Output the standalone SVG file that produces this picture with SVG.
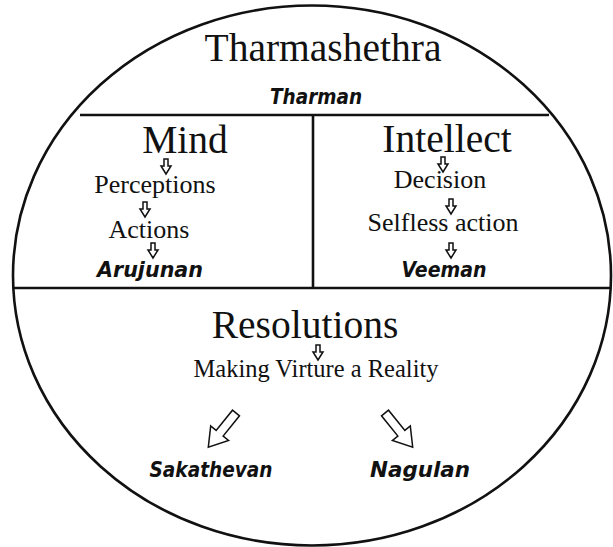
<svg xmlns="http://www.w3.org/2000/svg" width="613" height="547" viewBox="0 0 613 547">
<style>
.ser{font-family:"Liberation Serif","DejaVu Serif",serif;fill:#111;text-anchor:middle}
.h{font-size:39.5px}
.t{font-size:26px}
.sc{font-family:"DejaVu Sans","Liberation Sans",sans-serif;font-weight:bold;font-style:italic;font-size:22px;fill:#111;text-anchor:middle}
.ln{stroke:#111;stroke-width:2.6;fill:none}
.ar{fill:#fff;stroke:#111;stroke-width:1.5;stroke-linejoin:miter}
</style>
<defs>
<path id="sa" d="M-2,0 h4 v7 h3 l-5,8 l-5,-8 h3 z"/>
<path id="ba" d="M-4.5,0 h9 v26 h7 l-11.5,18 l-11.5,-18 h7 z"/>
</defs>
<rect width="613" height="547" fill="#fff"/>
<g id="connectors">
<ellipse class="ln" cx="312" cy="275.5" rx="299" ry="270"/>
<line class="ln" x1="80" y1="115" x2="549" y2="115"/>
<line class="ln" x1="313" y1="115" x2="313" y2="288"/>
<line class="ln" x1="14" y1="288" x2="611" y2="288"/>
<use href="#sa" class="ar" x="166" y="159"/>
<use href="#sa" class="ar" x="145" y="202"/>
<use href="#sa" class="ar" x="153" y="243"/>
<use href="#sa" class="ar" x="443" y="157"/>
<use href="#sa" class="ar" x="451" y="199"/>
<use href="#sa" class="ar" x="451" y="243"/>
<use href="#sa" class="ar" x="318" y="345"/>
<use href="#ba" class="ar" transform="translate(236,413) rotate(39)"/>
<use href="#ba" class="ar" transform="translate(385,413) rotate(-39)"/>
</g>
<g id="top">
<text class="ser h" x="323" y="61">Tharmashethra</text>
<text class="sc" x="316" y="104" textLength="92" lengthAdjust="spacingAndGlyphs">Tharman</text>
</g>
<g id="mind">
<text class="ser h" x="185" y="153">Mind</text>
<text class="ser t" x="155" y="193">Perceptions</text>
<text class="ser t" x="149" y="238">Actions</text>
<text class="sc" x="150" y="277" textLength="106" lengthAdjust="spacingAndGlyphs">Arujunan</text>
</g>
<g id="intellect">
<text class="ser h" x="447" y="152">Intellect</text>
<text class="ser t" x="440" y="188">Decision</text>
<text class="ser t" x="443" y="231">Selfless action</text>
<text class="sc" x="444" y="277" textLength="85" lengthAdjust="spacingAndGlyphs">Veeman</text>
</g>
<g id="resolutions">
<text class="ser h" x="305" y="338">Resolutions</text>
<text class="ser" x="316" y="377" style="font-size:24.5px">Making Virture a Reality</text>
</g>
<g id="sakathevan"><text class="sc" x="211" y="477" textLength="123" lengthAdjust="spacingAndGlyphs">Sakathevan</text></g>
<g id="nagulan"><text class="sc" x="420" y="477" textLength="100" lengthAdjust="spacingAndGlyphs">Nagulan</text></g>
</svg>
